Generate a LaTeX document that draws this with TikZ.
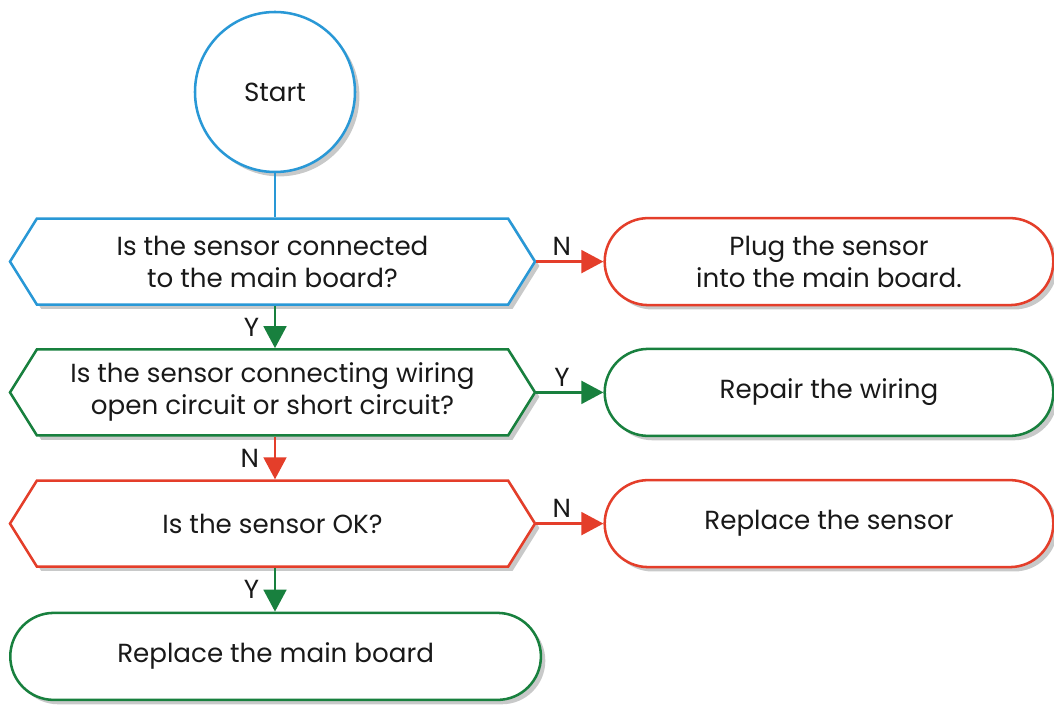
\documentclass[tikz,border=0pt]{standalone}
\usepackage{fontspec}
\setmainfont{Poppins}
\usetikzlibrary{arrows.meta,shapes.misc,shapes.symbols,shadows}
\definecolor{flowblue}{RGB}{41,152,214}
\definecolor{flowred}{RGB}{228,62,42}
\definecolor{flowgreen}{RGB}{24,128,62}
\definecolor{shadowgray}{RGB}{200,201,201}
\begin{document}
\begin{tikzpicture}[
			line width=1.8pt,
			every node/.style={font=\fontsize{18.6}{22.8}\selectfont, align=center, text=black!90},
			flatshadow/.style={drop shadow={shadow xshift=0.11cm, shadow yshift=-0.11cm, fill=shadowgray, opacity=1}},
			question/.style={signal, signal to=west and east, signal pointer angle=116, minimum width=13.125cm, minimum height=2.15cm, inner sep=0pt, fill=white, flatshadow},
			action/.style={rounded rectangle, minimum width=11.45cm, minimum height=2.175cm, fill=white, flatshadow},
			arr/.style={-{Triangle[length=0.55cm,width=0.57cm]}},
			]

				\useasboundingbox (0,0) rectangle (26.35,-17.65);

				\node[circle, draw=flowblue, fill=white, minimum size=4cm, flatshadow] (start) at (6.875,-2.3) {Start};

				\node[question, draw=flowblue] (q1) at (6.8125,-6.54) {Is the sensor connected\\ to the main board?};
				\node[question, draw=flowgreen] (q2) at (6.8125,-9.81) {Is the sensor connecting wiring\\ open circuit or short circuit?};
				\node[question, draw=flowred] (q3) at (6.8125,-13.09) {Is the sensor OK?};

				\node[action, draw=flowred] (plug) at (20.725,-6.54) {Plug the sensor\\ into the main board.};
				\node[action, draw=flowgreen] (wiring) at (20.725,-9.81) {Repair the wiring};
				\node[action, draw=flowred] (sensor) at (20.725,-13.09) {Replace the sensor};
				\node[action, draw=flowgreen, minimum width=13.5cm] (board) at (6.89,-16.41) {Replace the main board};

				\draw[flowblue] (start.south) -- (q1.north -| start.south);

				\draw[arr, flowgreen] (q1.south -| start.south) -- node[left=0.25cm] {Y} (q2.north -| start.south);
				\draw[arr, flowred] (q2.south -| start.south) -- node[left=0.25cm] {N} (q3.north -| start.south);
				\draw[arr, flowgreen] (q3.south -| start.south) -- node[left=0.25cm] {Y} (board.north -| start.south);

				\draw[arr, flowred] (q1.east) -- node[pos=0.38, above] {N} (plug.west);
				\draw[arr, flowgreen] (q2.east) -- node[pos=0.38, above] {Y} (wiring.west);
				\draw[arr, flowred] (q3.east) -- node[pos=0.38, above] {N} (sensor.west);

			\end{tikzpicture}
\end{document}
